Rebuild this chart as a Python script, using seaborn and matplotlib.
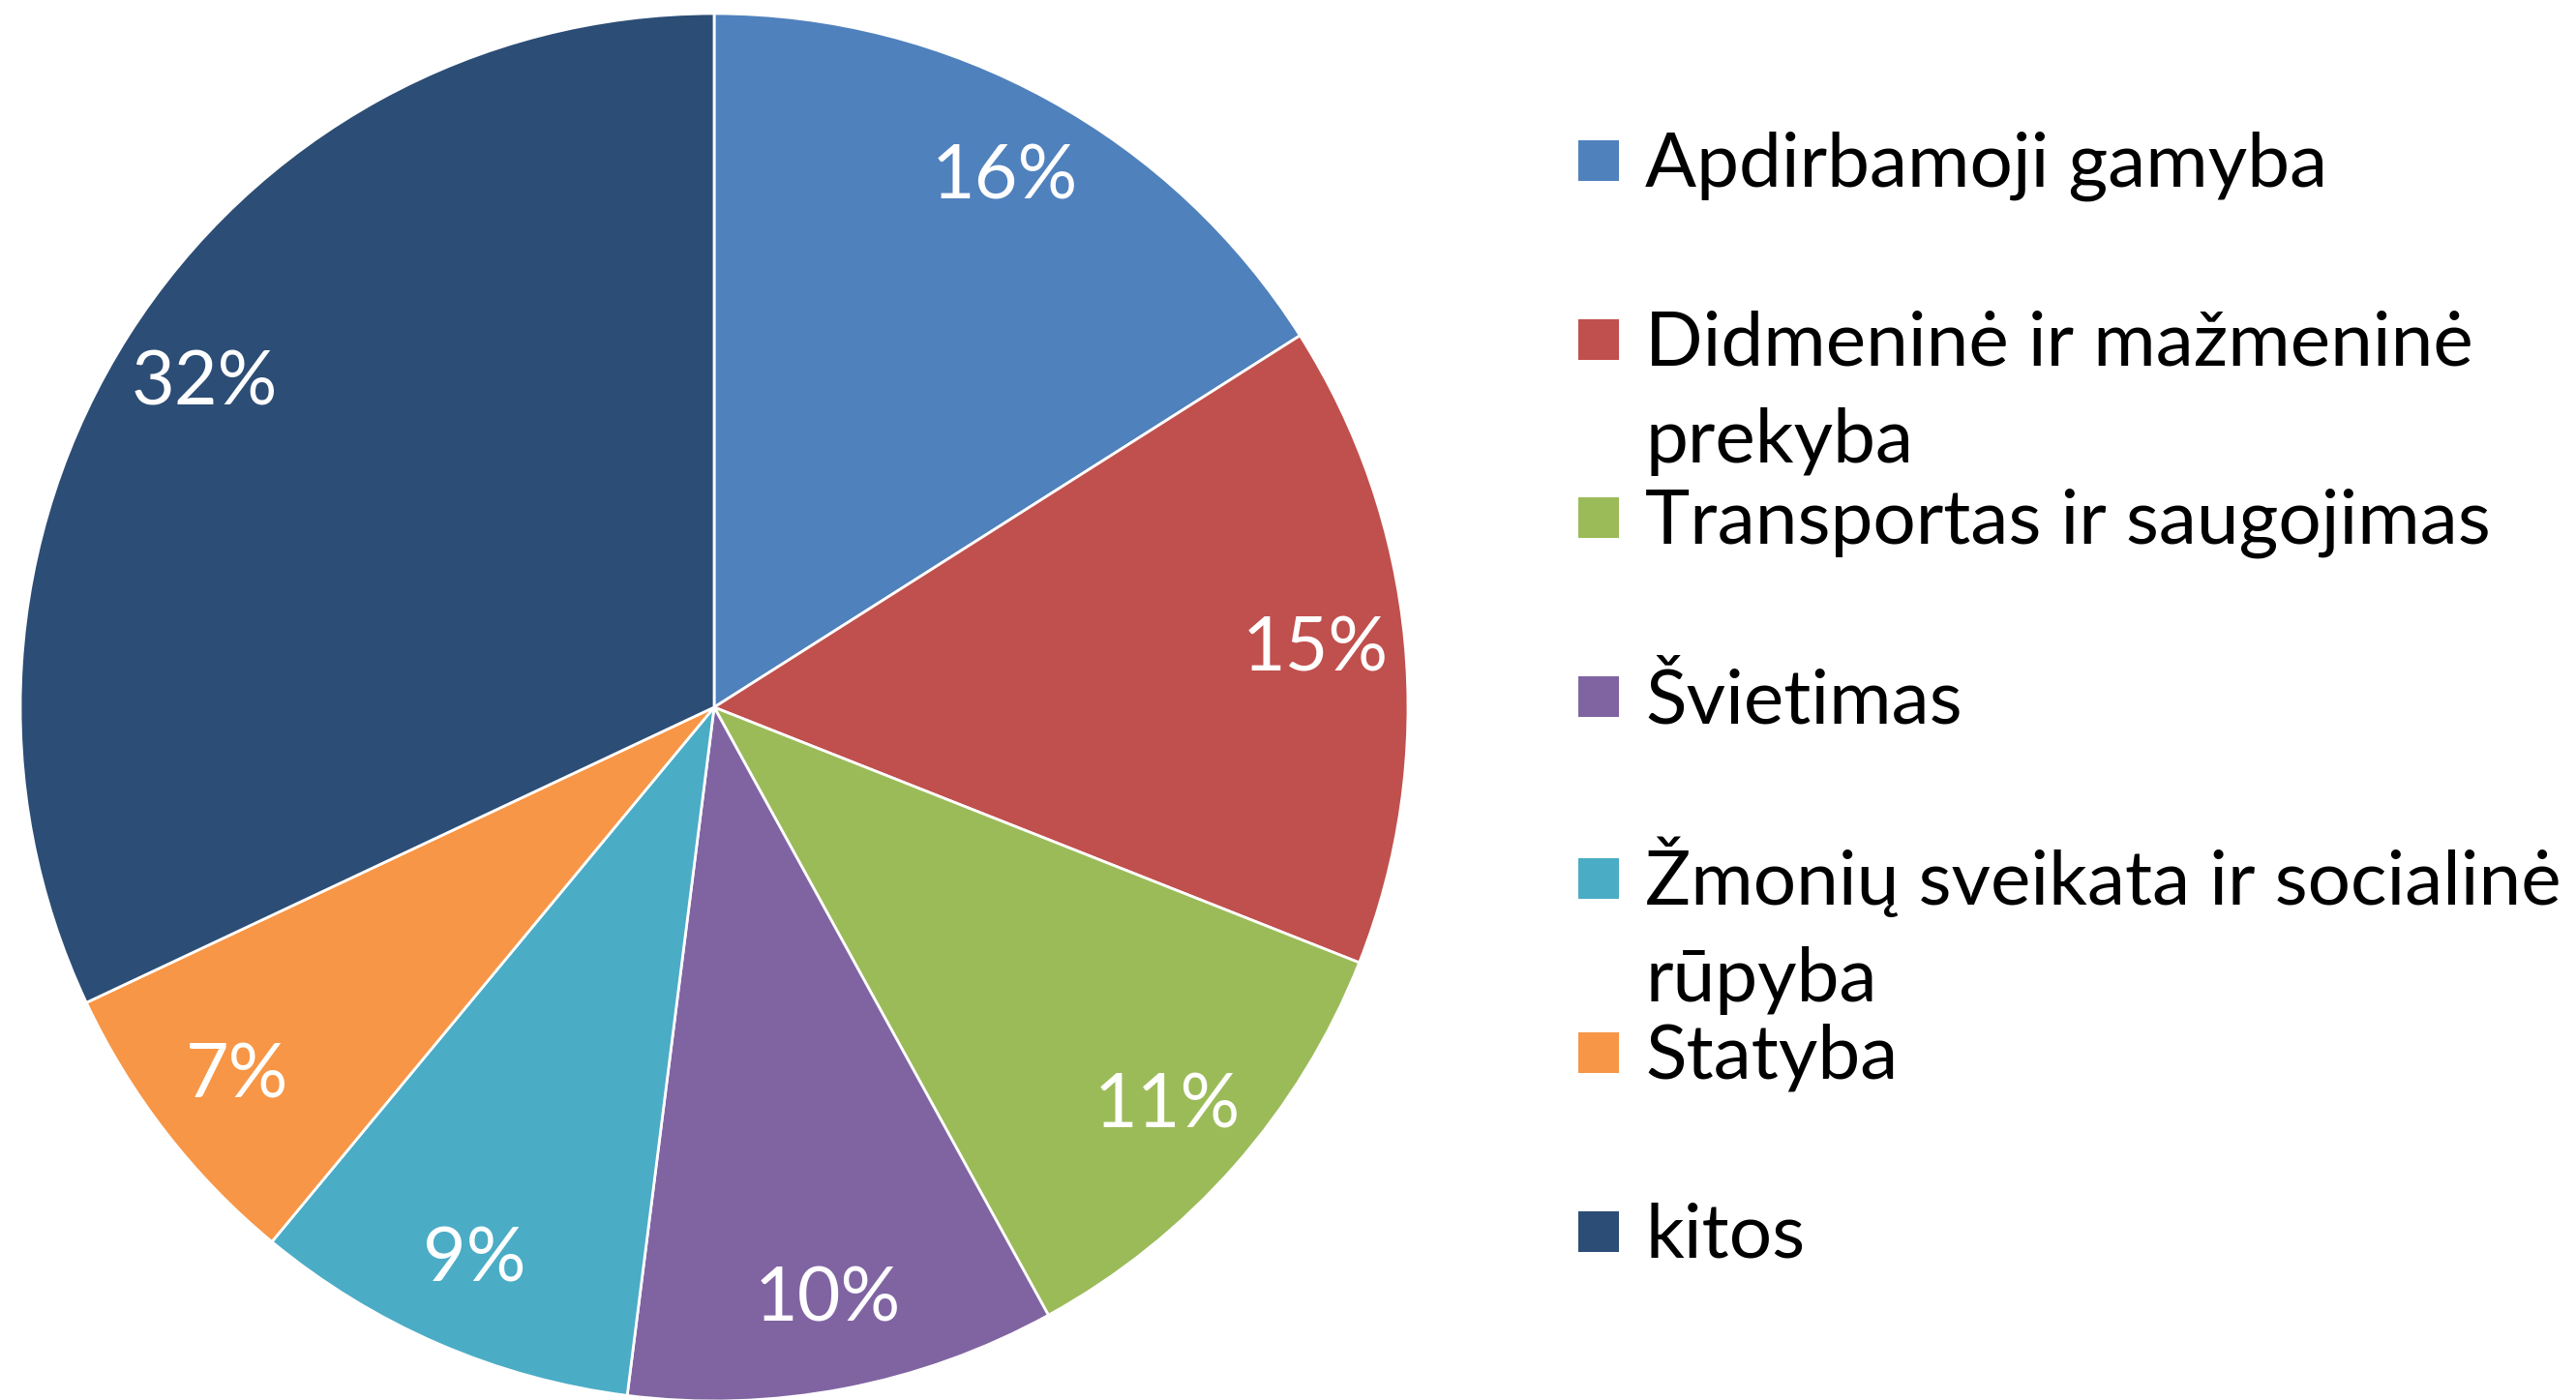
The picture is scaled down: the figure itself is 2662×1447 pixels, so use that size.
import matplotlib
matplotlib.use("Agg")
import matplotlib.pyplot as plt
import seaborn as sns
from matplotlib.patches import Rectangle

# ---- data ----
categories = [
    "Apdirbamoji gamyba",
    "Didmeninė ir mažmeninė prekyba",
    "Transportas ir saugojimas",
    "Švietimas",
    "Žmonių sveikata ir socialinė rūpyba",
    "Statyba",
    "kitos",
]
legend_lines = [
    ["Apdirbamoji gamyba"],
    ["Didmeninė ir mažmeninė", "prekyba"],
    ["Transportas ir saugojimas"],
    ["Švietimas"],
    ["Žmonių sveikata ir socialinė", "rūpyba"],
    ["Statyba"],
    ["kitos"],
]
shares = [16, 15, 11, 10, 9, 7, 32]
colors = ["#4F81BD", "#C0504D", "#9BBB59", "#8064A2", "#4BACC6", "#F79646", "#2C4D75"]

sns.set_theme(style="white")
plt.rcParams["font.family"] = ["Lato", "DejaVu Sans"]

W, H = 2662, 1447
fig = plt.figure(figsize=(W / 100, H / 100), dpi=100)

cx, cy, R = 738, 731, 717
ax = fig.add_axes([(cx - R) / W, (H - cy - R) / H, 2 * R / W, 2 * R / H])
palette = sns.color_palette(colors)
wedges, texts, autotexts = ax.pie(
    shares,
    colors=palette,
    startangle=90,
    counterclock=False,
    radius=1.0,
    pctdistance=0.87,
    autopct=lambda p: f"{p:.0f}%",
    wedgeprops=dict(edgecolor="white", linewidth=2),
    textprops=dict(color="white", fontsize=55.5),
)
ax.set_xlim(-1, 1)
ax.set_ylim(-1, 1)
ax.set_aspect("equal")
ax.axis("off")

# ---- legend (manual, Excel-like) ----
row_y = [166, 351, 535, 720, 908, 1088, 1273]
sq = 42
sq_x = 1631
txt_x = 1700
for lines, color, yc in zip(legend_lines, colors, row_y):
    fig.patches.append(
        Rectangle(((sq_x) / W, (H - yc - sq / 2) / H), sq / W, sq / H,
                  transform=fig.transFigure, facecolor=color, edgecolor="none")
    )
    for i, line in enumerate(lines):
        fig.text(txt_x / W, (H - (yc + 27 + i * 100)) / H, line,
                 fontsize=56.5, color="black", va="baseline", ha="left")

fig.savefig("out.png", dpi=100, facecolor="white")
